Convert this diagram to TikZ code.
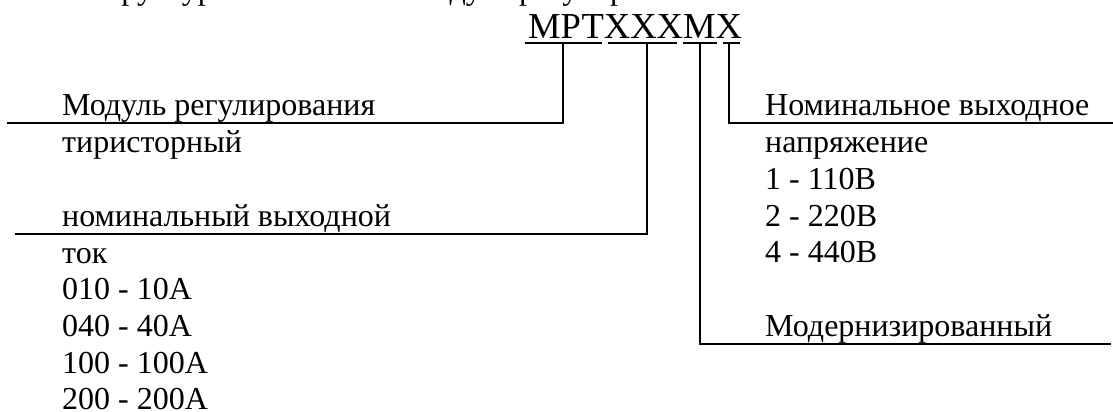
\documentclass[tikz,border=0pt]{standalone}
\usepackage{fontspec}
\setmainfont{Liberation Serif}
\begin{document}
\begin{tikzpicture}[x=1pt,y=-1pt,
  txt/.style={anchor=base west, inner sep=0pt, font=\fontsize{32}{36.8}\selectfont},
  codetxt/.style={anchor=base west, inner sep=0pt, font=\fontsize{36.6}{42}\selectfont},
  conn/.style={line width=1.8pt},
  ul/.style={line width=1.8pt}]
\useasboundingbox (0,0) rectangle (1113,412);
\fill[white] (0,0) rectangle (1113,412);
% clipped heading line (only descenders visible)
\node[txt] (title) at (86,0) {Структура обозначения модуля регулирования};
% code
\node[codetxt] (code) at (528,39) {МРТХХХМХ};
\draw[ul] (525,43) -- (602,43);
\draw[ul] (608,43) -- (677,43);
\draw[ul] (683,43) -- (717,43);
\draw[ul] (723,43) -- (740,43);
\coordinate (t1) at (563,43);
\coordinate (t2) at (647,43);
\coordinate (t3) at (700,43);
\coordinate (t4) at (729,43);
\coordinate (b1) at (563,123);
\coordinate (b2) at (647,234);
\coordinate (b3) at (700,344);
\coordinate (b4) at (729,123);
\coordinate (e1) at (7,123);
\coordinate (e2) at (15,234);
\coordinate (e3) at (1111,344);
\coordinate (e4) at (1113,123);
\draw[conn] (t1) -- (b1) -- (e1);
\draw[conn] (t2) -- (b2) -- (e2);
\draw[conn] (t3) -- (b3) -- (e3);
\draw[conn] (t4) -- (b4) -- (e4);
% left labels
\node[txt] (l1) at (62,115) {Модуль регулирования};
\node[txt] (l2) at (62,152) {тиристорный};
\node[txt] (l3) at (62,226) {номинальный выходной};
\node[txt] (l4) at (62,263) {ток};
\node[txt] (l5) at (62,299) {010 - 10А};
\node[txt] (l6) at (62,336) {040 - 40А};
\node[txt] (l7) at (62,373) {100 - 100А};
\node[txt] (l8) at (62,409) {200 - 200А};
% right labels
\node[txt] (r1) at (765,115) {Номинальное выходное};
\node[txt] (r2) at (765,152) {напряжение};
\node[txt] (r3) at (765,189) {1 - 110В};
\node[txt] (r4) at (765,226) {2 - 220В};
\node[txt] (r5) at (765,262) {4 - 440В};
\node[txt] (r6) at (765,336) {Модернизированный};
\end{tikzpicture}
\end{document}
